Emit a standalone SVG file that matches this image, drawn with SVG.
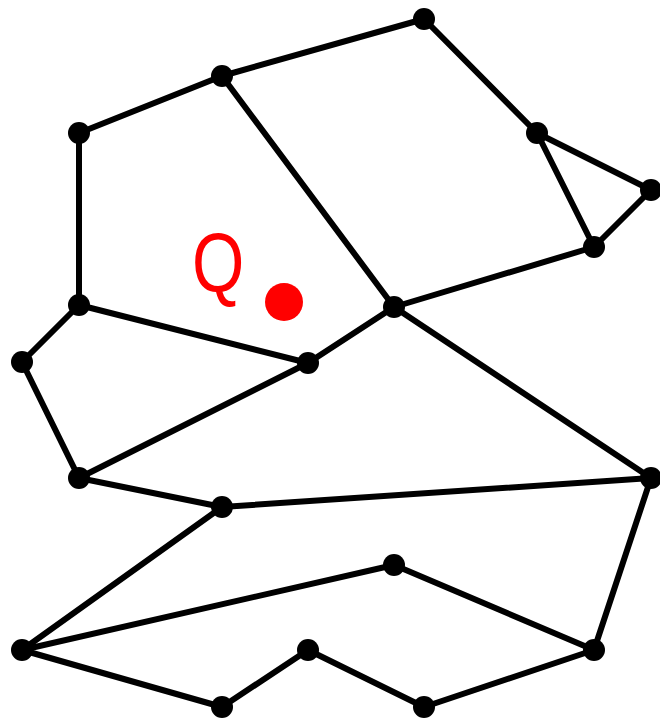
<svg xmlns="http://www.w3.org/2000/svg" width="660" height="720" viewBox="0 0 660 720">
<style>
.e{stroke:#000;stroke-width:6;fill:none;stroke-linecap:round}
.n{fill:#000}
</style>
<rect width="660" height="720" fill="#fff"/>
<g id="connectors" class="e">
<line x1="424" y1="19" x2="222" y2="76"/>
<line x1="424" y1="19" x2="537" y2="133"/>
<line x1="222" y1="76" x2="79" y2="133"/>
<line x1="222" y1="76" x2="394" y2="307"/>
<line x1="79" y1="133" x2="79" y2="305"/>
<line x1="537" y1="133" x2="651" y2="190"/>
<line x1="537" y1="133" x2="594" y2="247"/>
<line x1="651" y1="190" x2="594" y2="247"/>
<line x1="594" y1="247" x2="394" y2="307"/>
<line x1="394" y1="307" x2="308" y2="363"/>
<line x1="394" y1="307" x2="651" y2="478"/>
<line x1="79" y1="305" x2="308" y2="363"/>
<line x1="79" y1="305" x2="22" y2="362"/>
<line x1="22" y1="362" x2="79" y2="478"/>
<line x1="79" y1="478" x2="308" y2="363"/>
<line x1="79" y1="478" x2="222" y2="507"/>
<line x1="222" y1="507" x2="651" y2="478"/>
<line x1="651" y1="478" x2="594" y2="650"/>
<line x1="222" y1="507" x2="22" y2="650"/>
<line x1="22" y1="650" x2="394" y2="565"/>
<line x1="394" y1="565" x2="594" y2="650"/>
<line x1="22" y1="650" x2="222" y2="707"/>
<line x1="222" y1="707" x2="308" y2="650"/>
<line x1="308" y1="650" x2="424" y2="707"/>
<line x1="424" y1="707" x2="594" y2="650"/>
</g>
<g id="nA"><circle class="n" cx="424" cy="19" r="11"/></g>
<g id="nB"><circle class="n" cx="222" cy="76" r="11"/></g>
<g id="nC"><circle class="n" cx="79" cy="133" r="11"/></g>
<g id="nD"><circle class="n" cx="537" cy="133" r="11"/></g>
<g id="nE"><circle class="n" cx="651" cy="190" r="11"/></g>
<g id="nF"><circle class="n" cx="594" cy="247" r="11"/></g>
<g id="nG"><circle class="n" cx="394" cy="307" r="11"/></g>
<g id="nH"><circle class="n" cx="79" cy="305" r="11"/></g>
<g id="nI"><circle class="n" cx="308" cy="363" r="11"/></g>
<g id="nJ"><circle class="n" cx="22" cy="362" r="11"/></g>
<g id="nK"><circle class="n" cx="79" cy="478" r="11"/></g>
<g id="nL"><circle class="n" cx="651" cy="478" r="11"/></g>
<g id="nM"><circle class="n" cx="222" cy="507" r="11"/></g>
<g id="nN"><circle class="n" cx="394" cy="565" r="11"/></g>
<g id="nO"><circle class="n" cx="22" cy="650" r="11"/></g>
<g id="nP"><circle class="n" cx="308" cy="650" r="11"/></g>
<g id="nQ"><circle class="n" cx="594" cy="650" r="11"/></g>
<g id="nR"><circle class="n" cx="222" cy="707" r="11"/></g>
<g id="nS"><circle class="n" cx="424" cy="707" r="11"/></g>
<g id="query">
<text x="0" y="0" transform="translate(192,291) scale(0.8,1)" font-family="Liberation Sans, Arial, sans-serif" font-size="84" fill="#ff0000">Q</text>
<circle cx="284" cy="302" r="19" fill="#ff0000"/>
</g>
</svg>
